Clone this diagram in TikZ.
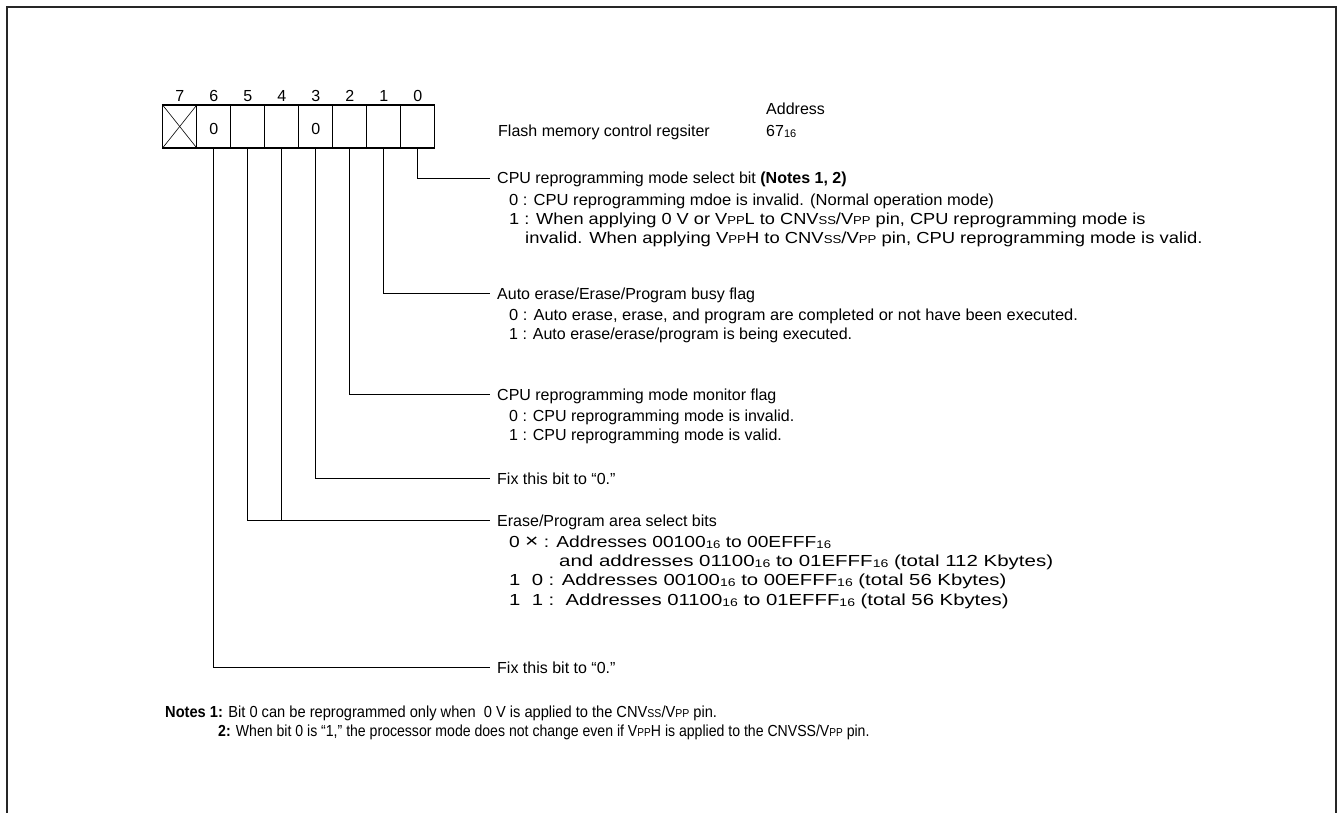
\documentclass[tikz,border=0pt]{standalone}
\usepackage{graphicx}
\usepackage{fontspec}
\setmainfont{Liberation Sans}
\newcommand{\sm}[1]{{\fontsize{11.5}{11.5}\selectfont #1}}
\newcommand{\sbs}[1]{\raisebox{-1pt}{\fontsize{11}{11}\selectfont #1}}
\newcommand{\wline}[2]{\scalebox{#1}[1]{#2}}
\begin{document}
\begin{tikzpicture}[x=1pt,y=-1pt,
  every node/.style={inner sep=0pt, font=\fontsize{16}{19}\selectfont},
  txt/.style={anchor=base west},
  bitnum/.style={anchor=base},
  cell/.style={draw, rectangle, minimum width=34pt, minimum height=43pt, line width=1.1pt},
  lead/.style={line width=0.8pt},
  frame/.style={line width=2.6pt, draw=black!85}]
\useasboundingbox (0,0) rectangle (1340,813);
\draw[frame] (7,813) -- (7,7) -- (1336,7) -- (1336,813);

% register cells
\foreach \i in {0,...,7}{
  \node[cell] (b\i) at ({417.7-34*\i},126.5) {};
  \node[bitnum] (n\i) at ({417.7-34*\i},102) {\i};
}
\draw[line width=0.6pt] (b7.north west) -- (b7.south east);
\draw[line width=0.6pt] (b7.south west) -- (b7.north east);
\node[bitnum] (v6) at (b6 |- 0,135) {0};
\node[bitnum] (v3) at (b3 |- 0,135) {0};

\node[txt] (addr) at (766,115) {Address};
\node[txt] (regname) at (498,137) {Flash memory control regsiter};
\node[txt] (addrv) at (766,137) {67\sbs{16}};

% leader end points
\coordinate (c0) at (490,178);
\coordinate (c1) at (490,293);
\coordinate (c2) at (490,394);
\coordinate (c3) at (490,478);
\coordinate (c45) at (490,520);
\coordinate (c6) at (490,667);

\draw[lead] (b0.south) |- (c0);
\draw[lead] (b1.south) |- (c1);
\draw[lead] (b2.south) |- (c2);
\draw[lead] (b3.south) |- (c3);
\draw[lead] (b5.south) |- (c45);
\draw[lead] (b4.south) -- (b4.south |- c45);
\draw[lead] (b6.south) |- (c6);

% descriptions
\node[txt] (t0) at (497,184) {CPU reprogramming mode select bit \textbf{(Notes 1, 2)}};
\node[txt] (t0a) at (509,205) {\wline{1.034}{0 : CPU reprogramming mdoe is invalid. (Normal operation mode)}};
\node[txt] (t0b) at (509,224) {\wline{1.137}{1 : When applying 0 V or V\sm{PP}L to CNV\sm{SS}/V\sm{PP} pin, CPU reprogramming mode is}};
\node[txt] (t0c) at (525,243) {\wline{1.15}{invalid. When applying V\sm{PP}H to CNV\sm{SS}/V\sm{PP} pin, CPU reprogramming mode is valid.}};

\node[txt] (t1) at (497,299) {Auto erase/Erase/Program busy flag};
\node[txt] (t1a) at (509,320) {\wline{1.027}{0 : Auto erase, erase, and program are completed or not have been executed.}};
\node[txt] (t1b) at (509,339) {1 : Auto erase/erase/program is being executed.};

\node[txt] (t2) at (497,400) {CPU reprogramming mode monitor flag};
\node[txt] (t2a) at (509,421) {0 : CPU reprogramming mode is invalid.};
\node[txt] (t2b) at (509,440) {1 : CPU reprogramming mode is valid.};

\node[txt] (t3) at (497,484) {Fix this bit to “0.”};

\node[txt] (t4) at (497,526) {Erase/Program area select bits};
\node[txt] (t4a) at (509,547) {\wline{1.2}{0 {\fontsize{19}{19}\selectfont ×} : Addresses 00100\sbs{16} to 00EFFF\sbs{16}}};
\node[txt] (t4b) at (559,566) {\wline{1.28}{and addresses 01100\sbs{16} to 01EFFF\sbs{16} (total 112 Kbytes)}};
\node[txt] (t4c) at (509,585) {\wline{1.27}{1\ \ 0 : Addresses 00100\sbs{16} to 00EFFF\sbs{16} (total 56 Kbytes)}};
\node[txt] (t4d) at (509,605) {\wline{1.27}{1\ \ 1 :\ \ Addresses 01100\sbs{16} to 01EFFF\sbs{16} (total 56 Kbytes)}};

\node[txt] (t6) at (497,673) {Fix this bit to “0.”};

\node[txt] (note1) at (165,717) {\wline{0.915}{\textbf{Notes 1:} Bit 0 can be reprogrammed only when\ \ 0 V is applied to the CNV\sm{SS}/V\sm{PP} pin.}};
\node[txt] (note2) at (218,736) {\wline{0.88}{\textbf{2:} When bit 0 is “1,” the processor mode does not change even if V\sm{PP}H is applied to the CNVSS/V\sm{PP} pin.}};
\end{tikzpicture}
\end{document}
